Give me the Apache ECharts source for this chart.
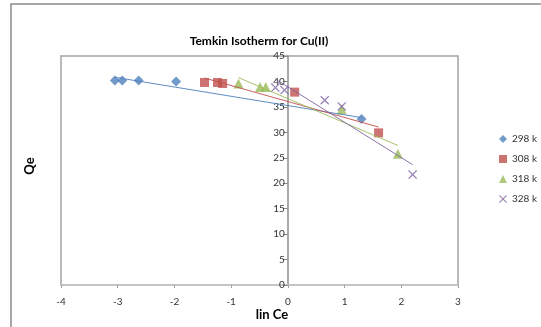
<!DOCTYPE html>
<html>
<head>
<meta charset="utf-8">
<script src="https://cdn.jsdelivr.net/npm/echarts@6/dist/echarts.min.js"></script>
<style>
  html, body { margin: 0; padding: 0; background: #fff; }
  #chart { width: 541px; height: 327px; }
</style>
</head>
<body>
<div id="chart"></div>
<script>
// Temkin isotherm data for Cu(II): Qe against ln Ce at four temperatures
const seriesNames = ['298 k', '308 k', '318 k', '328 k'];

const lnCe298 = [-3.05, -2.92, -2.63, -1.97, 1.30];
const qe298   = [40.2, 40.2, 40.2, 40.0, 32.6];

const lnCe308 = [-1.47, -1.24, -1.15, 0.12, 1.60];
const qe308   = [39.8, 39.8, 39.6, 37.9, 29.9];

const lnCe318 = [-0.87, -0.49, -0.39, 0.95, 1.94];
const qe318   = [39.6, 38.9, 38.9, 34.5, 25.8];

const lnCe328 = [-0.22, -0.06, 0.65, 0.95, 2.20];
const qe328   = [38.8, 38.3, 36.3, 35.1, 21.7];

const xTicks = [-4, -3, -2, -1, 0, 1, 2, 3];
const yTicks = [0, 5, 10, 15, 20, 25, 30, 35, 40, 45];

const colors = ['#4F81BD', '#C0504D', '#9BBB59', '#8064A2'];
const crossPath = 'path://M0,1L1,0L5,4L9,0L10,1L6,5L10,9L9,10L5,6L1,10L0,9L4,5Z';
const symbols = ['diamond', 'rect', 'triangle', crossPath];
const symbolSizes = [10, 9, 10, 9];

const xs = [lnCe298, lnCe308, lnCe318, lnCe328];
const ys = [qe298, qe308, qe318, qe328];

function pairs(x, y) { return x.map((v, i) => [v, y[i]]); }

// least-squares straight line drawn across the span of each series
function linearTrend(x, y) {
  const n = x.length;
  const mx = x.reduce((a, b) => a + b, 0) / n;
  const my = y.reduce((a, b) => a + b, 0) / n;
  let sxy = 0, sxx = 0;
  for (let i = 0; i < n; i++) {
    sxy += (x[i] - mx) * (y[i] - my);
    sxx += (x[i] - mx) * (x[i] - mx);
  }
  const b = sxy / sxx, a = my - b * mx;
  const x0 = Math.min(...x), x1 = Math.max(...x);
  return [[x0, a + b * x0], [x1, a + b * x1]];
}

const series = [];
seriesNames.forEach((name, i) => {
  series.push({
    name: name,
    type: 'scatter',
    data: pairs(xs[i], ys[i]),
    symbol: symbols[i],
    symbolSize: symbolSizes[i],
    itemStyle: { color: colors[i] },
    z: 3
  });
});
seriesNames.forEach((name, i) => {
  series.push({
    name: name + ' trend',
    type: 'line',
    data: linearTrend(xs[i], ys[i]),
    symbol: 'none',
    silent: true,
    lineStyle: { color: colors[i], width: 1, opacity: 0.9 },
    z: 4
  });
});

// plot area box
const W = 541, gridLeft = 61, gridRight = 83;
const gridWidth = W - gridLeft - gridRight;
const xMin = xTicks[0], xMax = xTicks[xTicks.length - 1];
// the vertical axis sits where ln Ce = 0, labels included
const yAxisOffset = -gridWidth * (0 - xMin) / (xMax - xMin);

const chart = echarts.init(document.getElementById('chart'), null, { renderer: 'canvas' });
const font = 'Lato, "Open Sans", sans-serif';

chart.setOption({
  animation: false,
  backgroundColor: '#ffffff',
  textStyle: { fontFamily: font },
  grid: {
    left: gridLeft, right: gridRight, top: 56, bottom: 42,
    show: true, borderColor: '#a3a3a3', borderWidth: 1.5, backgroundColor: 'transparent'
  },
  xAxis: {
    type: 'value',
    min: xMin, max: xMax, interval: 1,
    axisLine: { onZero: true, lineStyle: { color: '#c4c4c4', width: 2 } },
    axisTick: { show: true, length: 3, lineStyle: { color: '#a0a0a0' } },
    axisLabel: { fontSize: 10, color: '#333', margin: 12, fontFamily: font },
    splitLine: { show: false }
  },
  yAxis: {
    type: 'value',
    position: 'left',
    offset: yAxisOffset,
    min: yTicks[0], max: yTicks[yTicks.length - 1], interval: 5,
    axisLine: { show: true, onZero: false, lineStyle: { color: '#8c8c8c', width: 1.5 } },
    axisTick: { show: true, length: 5, lineStyle: { color: '#8c8c8c' } },
    axisLabel: { fontSize: 10, color: '#333', margin: 3, fontFamily: font },
    splitLine: { show: false }
  },
  legend: {
    orient: 'vertical',
    left: 494, top: 129,
    itemWidth: 8, itemHeight: 8, itemGap: 10,
    textStyle: { fontSize: 10, color: '#333', fontFamily: font },
    data: seriesNames.map((n, i) => ({ name: n, icon: symbols[i] }))
  },
  graphic: [
    {
      type: 'rect', silent: true, z: -1,
      shape: { x: 11, y: 4, width: 620, height: 400 },
      style: { fill: 'none', stroke: '#8a8a8a', lineWidth: 1.5 }
    },
    {
      type: 'text', x: 259, y: 41,
      style: { text: 'Temkin Isotherm for Cu(II)', font: 'bold 12px ' + font, fill: '#000',
               align: 'center', verticalAlign: 'middle' }
    },
    {
      type: 'text', x: 272, y: 315,
      style: { text: 'lin Ce', font: 'bold 13px ' + font, fill: '#000',
               align: 'center', verticalAlign: 'middle' }
    },
    {
      type: 'text', x: 30, y: 166, rotation: Math.PI / 2,
      style: { text: 'Qe', font: 'bold 13px ' + font, fill: '#000',
               align: 'center', verticalAlign: 'middle' }
    }
  ],
  series: series
});
</script>
</body>
</html>
